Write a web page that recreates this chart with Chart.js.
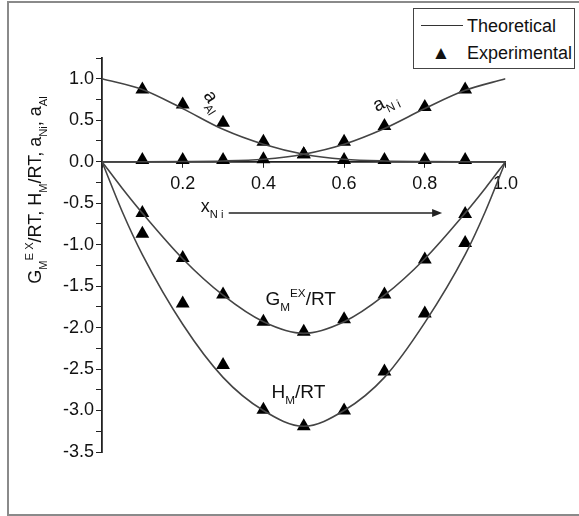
<!DOCTYPE html>
<html>
<head>
<meta charset="utf-8">
<script src="https://cdn.jsdelivr.net/npm/chart.js@4"></script>
<style>
  body { margin: 0; background: #fff; }
  #wrap { position: relative; width: 579px; height: 516px; overflow: hidden; }
  #chart { position: absolute; left: 0; top: 0; }
  #frame { position: absolute; left: 7px; top: 1px; width: 600px; height: 511px; border: 2px solid #8a8a8a; pointer-events: none; }
  #legend { position: absolute; left: 413px; top: 8px; width: 160px; height: 59px; border: 1.5px solid #444; background: #fff;
    font: 18px "Liberation Sans", Arial, sans-serif; color: #111; }
  #legend .row { position: absolute; left: 0; height: 22px; line-height: 22px; }
  #legend .sym { position: absolute; left: 6px; width: 42px; top: 0; height: 22px; text-align: center; }
  #legend .txt { position: absolute; left: 53px; top: 0; white-space: nowrap; }
  #legend .ln { position: absolute; left: 7px; width: 42px; top: 10px; border-top: 1.5px solid #333; }
</style>
</head>
<body>
<div id="wrap">
  <canvas id="chart" width="579" height="516"></canvas>
  <div id="frame"></div>
  <div id="legend">
    <div class="row" style="top:6px"><div class="ln"></div><span class="txt">Theoretical</span></div>
    <div class="row" style="top:33px"><span class="sym" style="font-size:19px">&#9650;</span><span class="txt">Experimental</span></div>
  </div>
</div>
<script>
// theoretical curves (activities)
const xAct = [0, 0.1, 0.2, 0.3, 0.4, 0.5, 0.6, 0.7, 0.8, 0.9, 1.0];
const aAlTheory = [1.0, 0.87, 0.64, 0.39, 0.21, 0.09, 0.03, 0.008, 0.002, 0, 0];
const aNiTheory = [0, 0, 0.002, 0.008, 0.03, 0.09, 0.21, 0.40, 0.64, 0.86, 1.0];

// theoretical curves (mixing functions)
const xMix = [0, 0.05, 0.1, 0.2, 0.3, 0.4, 0.5, 0.6, 0.7, 0.8, 0.9, 0.95, 1.0];
const gTheory = [0, -0.32, -0.62, -1.17, -1.61, -1.93, -2.07, -1.93, -1.61, -1.17, -0.62, -0.32, 0];
const hTheory = [0, -0.60, -1.12, -1.96, -2.60, -3.00, -3.19, -3.00, -2.60, -1.94, -1.12, -0.60, 0];

// experimental points
const xExp = [0.1, 0.2, 0.3, 0.4, 0.5, 0.6, 0.7, 0.8, 0.9];
const aAlExp = [0.87, 0.69, 0.47, 0.24, 0.09, 0.02, 0.02, 0.02, 0.02];
const aNiExp = [0.02, 0.02, 0.02, 0.03, 0.09, 0.24, 0.43, 0.66, 0.87];
const gExp = [-0.62, -1.16, -1.60, -1.93, -2.05, -1.90, -1.60, -1.18, -0.63];
const hExp = [-0.87, -1.71, -2.45, -2.99, -3.19, -3.00, -2.53, -1.83, -0.98];

const FONT = '"Liberation Sans", Arial, sans-serif';

const pts = (xs, ys) => xs.map((x, i) => ({ x: x, y: ys[i] }));

function theory(xs, ys) {
  return {
    type: 'line', data: pts(xs, ys), showLine: true,
    borderColor: '#444', borderWidth: 1.6, pointRadius: 0,
    cubicInterpolationMode: 'monotone', fill: false
  };
}
function exper(ys) {
  return {
    type: 'scatter', data: pts(xExp, ys),
    pointStyle: 'triangle', pointRadius: 8,
    backgroundColor: '#000', borderColor: '#000', borderWidth: 0
  };
}

// draws text with sub (1) / superscript (2) pieces, from the current origin
function rich(ctx, parts, size, draw) {
  let cx = 0;
  parts.forEach(([t, m]) => {
    const s = m ? size * 0.62 : size;
    ctx.font = s + 'px ' + FONT;
    const dy = m === 1 ? size * 0.32 : m === 2 ? -size * 0.45 : 0;
    if (draw) ctx.fillText(t, cx, dy);
    cx += ctx.measureText(t).width;
  });
  return cx;
}

function label(ctx, parts, px, py, size, angle, center) {
  ctx.save();
  ctx.translate(px, py);
  ctx.rotate(angle);
  const w = center ? rich(ctx, parts, size, false) : 0;
  ctx.translate(-w / 2, 0);
  rich(ctx, parts, size, true);
  ctx.restore();
}

const notes = {
  id: 'notes',
  afterDatasetsDraw(chart) {
    const { ctx, scales: { x, y } } = chart;
    ctx.save();
    ctx.fillStyle = '#111';
    ctx.textBaseline = 'alphabetic';
    ctx.textAlign = 'left';

    // y axis title
    label(ctx, [['G', 0], ['M', 1], ['E X', 2], ['/RT, H', 0], ['M', 1], ['/RT, a', 0], ['Ni', 1], [', a', 0], ['Al', 1]],
      41, 190, 18, -Math.PI / 2, true);

    // curve names
    label(ctx, [['a', 0], ['Al', 1]], x.getPixelForValue(0.25), y.getPixelForValue(0.80), 19, 1.0, false);
    label(ctx, [['a', 0], ['N i', 1]], x.getPixelForValue(0.68), y.getPixelForValue(0.60), 19, -0.45, false);
    label(ctx, [['G', 0], ['M', 1], ['EX', 2], ['/RT', 0]], x.getPixelForValue(0.405), y.getPixelForValue(-1.73), 19, 0, false);
    label(ctx, [['H', 0], ['M', 1], ['/RT', 0]], x.getPixelForValue(0.42), y.getPixelForValue(-2.85), 19, 0, false);
    label(ctx, [['x', 0], ['N i', 1]], x.getPixelForValue(0.245), y.getPixelForValue(-0.61), 18, 0, false);

    // composition arrow
    const ay = y.getPixelForValue(-0.62);
    const ax0 = x.getPixelForValue(0.314), ax1 = x.getPixelForValue(0.843);
    ctx.strokeStyle = '#222';
    ctx.lineWidth = 1.5;
    ctx.beginPath();
    ctx.moveTo(ax0, ay);
    ctx.lineTo(ax1 - 8, ay);
    ctx.stroke();
    ctx.beginPath();
    ctx.moveTo(ax1, ay);
    ctx.lineTo(ax1 - 10, ay - 4);
    ctx.lineTo(ax1 - 10, ay + 4);
    ctx.closePath();
    ctx.fillStyle = '#222';
    ctx.fill();
    ctx.restore();
  }
};

new Chart(document.getElementById('chart'), {
  type: 'scatter',
  data: {
    datasets: [
      theory(xAct, aAlTheory),
      theory(xAct, aNiTheory),
      theory(xMix, gTheory),
      theory(xMix, hTheory),
      exper(aAlExp),
      exper(aNiExp),
      exper(gExp),
      exper(hExp)
    ]
  },
  options: {
    responsive: false,
    animation: false,
    layout: { padding: { left: 42, top: 58, right: 73.5, bottom: 64 } },
    plugins: { legend: { display: false }, tooltip: { enabled: false } },
    scales: {
      x: {
        type: 'linear', min: 0, max: 1, position: { y: 0 },
        afterFit: s => { s.height = 0; },
        ticks: {
          stepSize: 0.2, padding: 7, color: '#111', font: { size: 18, family: FONT },
          maxRotation: 0,
          callback: v => v === 0 ? '' : v.toFixed(1)
        },
        grid: { drawOnChartArea: false, drawTicks: true, tickLength: 5, color: '#222' },
        border: { color: '#222', width: 1.8 }
      },
      y: {
        type: 'linear', min: -3.5, max: 1.25,
        afterFit: s => { s.width = 60; },
        ticks: {
          stepSize: 0.25, autoSkip: false, padding: 2, color: '#111', font: { size: 18, family: FONT },
          callback: v => (Math.abs(v * 2 - Math.round(v * 2)) < 1e-6 && v <= 1) ? v.toFixed(1) : ''
        },
        grid: { drawOnChartArea: false, drawTicks: true, tickLength: 6, color: '#222' },
        border: { color: '#222', width: 1.8 }
      }
    }
  },
  plugins: [notes]
});
</script>
</body>
</html>
